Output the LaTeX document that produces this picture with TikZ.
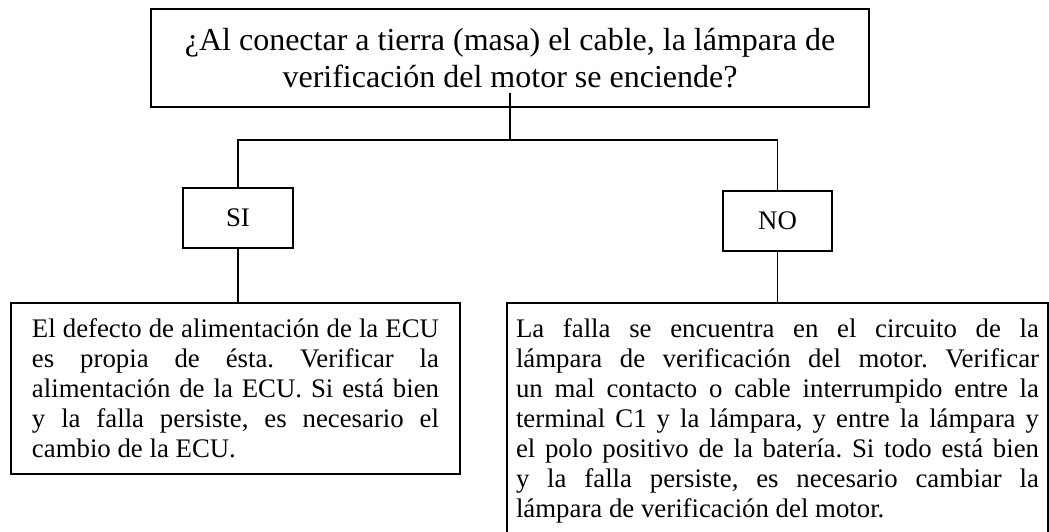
\documentclass[tikz,border=0pt]{standalone}
\usepackage{fontspec}
\setmainfont{Liberation Serif}
\setlength{\parindent}{0pt}
\tolerance=10000
\frenchspacing
\begin{document}
\begin{tikzpicture}[
  x=0.5pt, y=-0.5pt,
  flqbox/.style = {draw, line width=1pt, inner sep=0pt},
  flqans/.style = {flqbox, minimum width=55pt, minimum height=30pt,
    font=\fontsize{13.4}{15}\selectfont},
  flqtext/.style = {flqbox, anchor=north west, align=justify, inner ysep=7.85pt,
    font=\fontsize{13.4}{15}\selectfont},
  flqline/.style = {line width=0.8pt}
]
  \fill[white] (0,0) rectangle (1049,531);
  \useasboundingbox (0,0) rectangle (1049,531);
  % pregunta
  \node[flqbox, align=center, minimum width=359pt, minimum height=49pt,
    font=\fontsize{16}{18.5}\selectfont] (preg) at (510,58)
    {¿Al conectar a tierra (masa) el cable, la lámpara de\\
     verificación del motor se enciende?};
  % respuestas
  \node[flqans] (si) at (238,218) {SI};
  \node[flqans, minimum width=54.5pt] (no) at (777.5,220.5) {NO};
  % acciones
  \node[flqtext, text width=203.5pt, inner xsep=10.5pt] (accsi) at (10,302)
    {El defecto de alimentación de la ECU\linebreak
     es propia de ésta. Verificar la\linebreak
     alimentación de la ECU. Si está bien\linebreak
     y la falla persiste, es necesario el\linebreak
     cambio de la ECU.};
  \node[flqtext, text width=261.5pt, inner xsep=4.5pt] (accno) at (506,302)
    {\rightskip=5pt La falla se encuentra en el circuito de la\linebreak
     lámpara de verificación del motor. Verificar\linebreak
     un mal contacto o cable interrumpido entre la\linebreak
     terminal C1 y la lámpara, y entre la lámpara y\linebreak
     el polo positivo de la batería. Si todo está bien\linebreak
     y la falla persiste, es necesario cambiar la\linebreak
     lámpara de verificación del motor.};
  % conectores
  \coordinate (bar) at (510,140);
  \draw[flqline] ([yshift=7.5pt]preg.south) -- (bar);
  \draw[flqline] (si.north) |- (bar) -| (no.north);
  \draw[flqline] (si.south) -- (si.south |- accsi.north);
  \draw[flqline] (no.south) -- (no.south |- accno.north);
\end{tikzpicture}
\end{document}
